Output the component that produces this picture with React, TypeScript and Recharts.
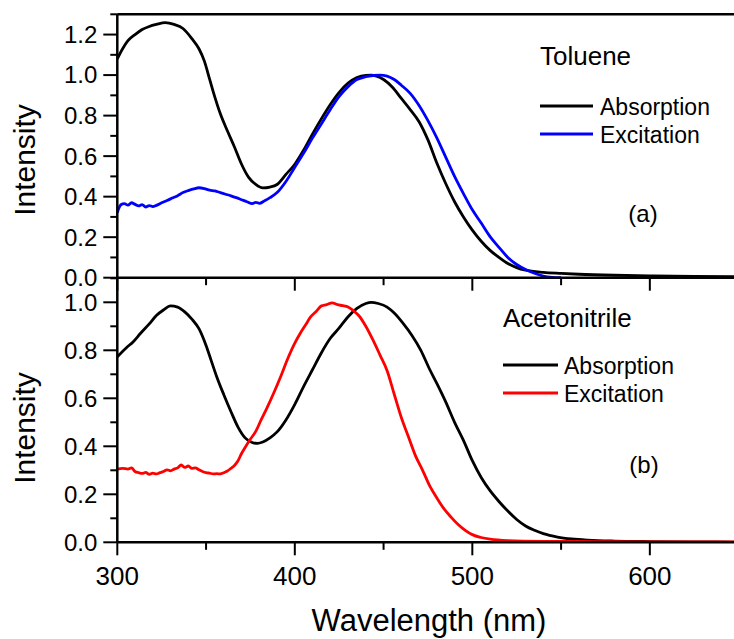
import React from 'react';
import { LineChart, Line, XAxis, YAxis, ReferenceLine } from 'recharts';

const FONT = 'Arial, "Liberation Sans", Helvetica, sans-serif';

const xTicks = [300, 350, 400, 450, 500, 550, 600, 650];
const yTicksTop = [0, 0.1, 0.2, 0.3, 0.4, 0.5, 0.6, 0.7, 0.8, 0.9, 1.0, 1.1, 1.2, 1.3];
const yTicksBottom = [0, 0.1, 0.2, 0.3, 0.4, 0.5, 0.6, 0.7, 0.8, 0.9, 1.0, 1.1];

// (a) Toluene - absorption
const tolAbsWl = [300, 303, 306, 310, 314, 318, 322, 327, 332, 337, 342, 346, 349, 352, 355, 358, 362, 366, 370, 374, 378, 382, 386, 390, 395, 400, 405, 410, 415, 420, 425, 430, 435, 440, 443, 446, 450, 455, 460, 465, 470, 475, 480, 485, 490, 495, 500, 505, 510, 515, 520, 525, 530, 540, 550, 560, 580, 600, 625, 650];
const tolAbsVal = [1.08, 1.13, 1.17, 1.2, 1.225, 1.24, 1.25, 1.259, 1.25, 1.23, 1.18, 1.13, 1.07, 0.98, 0.89, 0.81, 0.725, 0.645, 0.56, 0.495, 0.46, 0.443, 0.447, 0.46, 0.51, 0.56, 0.63, 0.71, 0.785, 0.855, 0.915, 0.96, 0.988, 0.999, 1.0, 0.995, 0.978, 0.94, 0.885, 0.83, 0.77, 0.68, 0.566, 0.465, 0.375, 0.3, 0.235, 0.18, 0.135, 0.1, 0.07, 0.05, 0.037, 0.026, 0.021, 0.017, 0.012, 0.009, 0.006, 0.005];

// (a) Toluene - excitation
const tolExcWl = [300, 301, 302, 304, 306, 308, 310, 312, 314, 316, 318, 320, 322, 325, 328, 331, 334, 337, 340, 343, 346, 349, 352, 355, 358, 361, 364, 367, 370, 373, 376, 378, 380, 383, 386, 390, 395, 400, 405, 410, 415, 420, 425, 430, 435, 440, 444, 448, 452, 456, 460, 465, 470, 475, 480, 485, 490, 495, 500, 505, 510, 515, 520, 525, 530, 535, 540, 545, 550];
const tolExcVal = [0.32, 0.345, 0.36, 0.366, 0.358, 0.37, 0.362, 0.354, 0.361, 0.349, 0.356, 0.351, 0.357, 0.37, 0.381, 0.393, 0.405, 0.42, 0.43, 0.438, 0.444, 0.44, 0.432, 0.428, 0.42, 0.412, 0.404, 0.395, 0.385, 0.375, 0.366, 0.372, 0.367, 0.38, 0.395, 0.42, 0.475, 0.545, 0.615, 0.69, 0.76, 0.83, 0.895, 0.943, 0.978, 0.992, 0.998, 1.0, 0.995, 0.978, 0.95, 0.91, 0.85, 0.775, 0.69, 0.595, 0.5, 0.415, 0.335, 0.27, 0.203, 0.15, 0.1, 0.065, 0.04, 0.022, 0.008, 0.002, 0.0];

// (b) Acetonitrile - absorption
const aceAbsWl = [300, 305, 309, 313, 318, 322, 326, 330, 334, 338, 342, 346, 350, 353, 356, 360, 364, 368, 372, 376, 379, 382, 386, 390, 395, 400, 405, 410, 415, 420, 425, 430, 435, 440, 443, 447, 452, 456, 461, 466, 471, 476, 480, 485, 490, 495, 500, 505, 510, 515, 520, 525, 530, 535, 540, 548, 556, 565, 580, 600, 625, 650];
const aceAbsVal = [0.773, 0.81, 0.836, 0.87, 0.91, 0.945, 0.968, 0.985, 0.98, 0.96, 0.93, 0.89, 0.82, 0.755, 0.69, 0.615, 0.545, 0.48, 0.435, 0.416, 0.412, 0.418, 0.435, 0.46, 0.51, 0.575, 0.65, 0.72, 0.79, 0.85, 0.893, 0.94, 0.975, 0.995, 1.0, 0.995, 0.98, 0.955, 0.912, 0.862, 0.8, 0.72, 0.662, 0.585, 0.5, 0.425, 0.34, 0.27, 0.215, 0.17, 0.13, 0.095, 0.068, 0.05, 0.036, 0.022, 0.014, 0.009, 0.005, 0.003, 0.002, 0.001];

// (b) Acetonitrile - excitation
const aceExcWl = [300, 303, 306, 308, 310, 312, 314, 316, 318, 320, 322, 324, 326, 328, 330, 332, 334, 336, 338, 340, 342, 344, 346, 348, 350, 352, 354, 356, 358, 360, 362, 364, 366, 368, 370, 372, 375, 378, 381, 384, 388, 392, 396, 400, 403, 406, 409, 412, 415, 418, 421, 424, 427, 430, 433, 436, 440, 444, 448, 452, 456, 460, 464, 468, 472, 476, 480, 484, 488, 492, 496, 500, 505, 510, 520, 540, 570, 600, 650];
const aceExcVal = [0.305, 0.308, 0.305, 0.31, 0.295, 0.29, 0.287, 0.291, 0.283, 0.288, 0.285, 0.29, 0.295, 0.302, 0.298, 0.305, 0.31, 0.322, 0.312, 0.318, 0.308, 0.31, 0.302, 0.295, 0.29, 0.288, 0.285, 0.286, 0.285, 0.29, 0.297, 0.308, 0.32, 0.34, 0.37, 0.395, 0.43, 0.462, 0.51, 0.555, 0.62, 0.69, 0.765, 0.83, 0.87, 0.905, 0.94, 0.962, 0.985, 0.99, 0.998, 0.99, 0.986, 0.98, 0.965, 0.945, 0.9, 0.843, 0.78, 0.715, 0.617, 0.52, 0.44, 0.36, 0.3, 0.235, 0.185, 0.14, 0.105, 0.074, 0.05, 0.032, 0.02, 0.013, 0.007, 0.004, 0.003, 0.002, 0.002];

const toPoints = (wl: number[], val: number[]) => wl.map((w, i) => ({ wl: w, v: val[i] }));

const XTick = ({ x, y, payload, labels }: any) => {
  const major = payload.value % 100 === 0;
  return (
    <g>
      <line x1={x} x2={x} y1={y} y2={y + (major ? 13 : 7.5)} stroke="#000" strokeWidth={2} />
      {labels && major && (
        <text x={x} y={y + 43} textAnchor="middle" fontSize={26} fontFamily={FONT} fill="#000">
          {payload.value}
        </text>
      )}
    </g>
  );
};

const YTick = ({ x, y, payload }: any) => {
  const major = Math.round(payload.value * 10) % 2 === 0;
  return (
    <g>
      <line x1={x - (major ? 14 : 7)} x2={x} y1={y} y2={y} stroke="#000" strokeWidth={2} />
      {major && (
        <text x={x - 20} y={y} dy="0.35em" textAnchor="end" fontSize={24} fontFamily={FONT} fill="#000">
          {payload.value.toFixed(1)}
        </text>
      )}
    </g>
  );
};

const axisLine = { stroke: '#000', strokeWidth: 2.5 };

export default function App() {
  return (
    <div style={{ position: 'absolute', left: 0, top: 0, width: 734, height: 639, overflow: 'hidden', background: '#fff' }}>
      {/* panel (a) */}
      <div style={{ position: 'absolute', left: 0, top: 0 }}>
        <LineChart width={750} height={295} margin={{ top: 14.3, right: 11.4, left: 0, bottom: 0 }}>
          <XAxis
            dataKey="wl"
            type="number"
            domain={[300, 650]}
            ticks={xTicks}
            interval={0}
            allowDataOverflow
            height={17.3}
            tickSize={0}
            tickMargin={0}
            tickLine={false}
            axisLine={axisLine}
            tick={(p: any) => <XTick {...p} labels={false} />}
          />
          <YAxis
            type="number"
            domain={[0, 1.3]}
            ticks={yTicksTop}
            interval={0}
            allowDataOverflow
            width={117.3}
            tickSize={0}
            tickMargin={0}
            tickLine={false}
            axisLine={axisLine}
            tick={(p: any) => <YTick {...p} />}
          />
          <ReferenceLine y={1.3} stroke="#000" strokeWidth={2.5} />
          <Line type="monotone" data={toPoints(tolAbsWl, tolAbsVal)} dataKey="v" stroke="#000" strokeWidth={2.8} dot={false} isAnimationActive={false} />
          <Line type="monotone" data={toPoints(tolExcWl, tolExcVal)} dataKey="v" stroke="#0000ff" strokeWidth={2.8} dot={false} isAnimationActive={false} />
        </LineChart>
      </div>

      {/* panel (b) */}
      <div style={{ position: 'absolute', left: 0, top: 0 }}>
        <LineChart width={750} height={639} margin={{ top: 278.3, right: 11.4, left: 0, bottom: 0 }}>
          <XAxis
            dataKey="wl"
            type="number"
            domain={[300, 650]}
            ticks={xTicks}
            interval={0}
            allowDataOverflow
            height={96.7}
            tickSize={0}
            tickMargin={0}
            tickLine={false}
            axisLine={axisLine}
            tick={(p: any) => <XTick {...p} labels />}
          />
          <YAxis
            type="number"
            domain={[0, 1.1]}
            ticks={yTicksBottom}
            interval={0}
            allowDataOverflow
            width={117.3}
            tickSize={0}
            tickMargin={0}
            tickLine={false}
            axisLine={axisLine}
            tick={(p: any) => <YTick {...p} />}
          />
          <Line type="monotone" data={toPoints(aceAbsWl, aceAbsVal)} dataKey="v" stroke="#000" strokeWidth={2.8} dot={false} isAnimationActive={false} />
          <Line type="monotone" data={toPoints(aceExcWl, aceExcVal)} dataKey="v" stroke="#ff0000" strokeWidth={2.8} dot={false} isAnimationActive={false} />
        </LineChart>
      </div>

      {/* titles, legends, axis labels */}
      <svg width={734} height={639} style={{ position: 'absolute', left: 0, top: 0, pointerEvents: 'none' }} fontFamily={FONT} fill="#000">
        <text x={35} y={160} fontSize={30} textAnchor="middle" transform="rotate(-90, 35, 160)">Intensity</text>
        <text x={35} y={428} fontSize={30} textAnchor="middle" transform="rotate(-90, 35, 428)">Intensity</text>
        <text x={429} y={631} fontSize={31} textAnchor="middle">Wavelength (nm)</text>

        <text x={540} y={65} fontSize={26}>Toluene</text>
        <line x1={540} x2={593} y1={106} y2={106} stroke="#000" strokeWidth={3} />
        <text x={600} y={115} fontSize={23}>Absorption</text>
        <line x1={540} x2={593} y1={134} y2={134} stroke="#0000ff" strokeWidth={3} />
        <text x={600} y={143} fontSize={23}>Excitation</text>
        <text x={643} y={222} fontSize={24} textAnchor="middle">(a)</text>

        <text x={503} y={327} fontSize={26}>Acetonitrile</text>
        <line x1={503} x2={558} y1={365} y2={365} stroke="#000" strokeWidth={3} />
        <text x={564} y={374} fontSize={23}>Absorption</text>
        <line x1={503} x2={558} y1={393} y2={393} stroke="#ff0000" strokeWidth={3} />
        <text x={564} y={402} fontSize={23}>Excitation</text>
        <text x={644} y={473} fontSize={24} textAnchor="middle">(b)</text>
      </svg>
    </div>
  );
}
